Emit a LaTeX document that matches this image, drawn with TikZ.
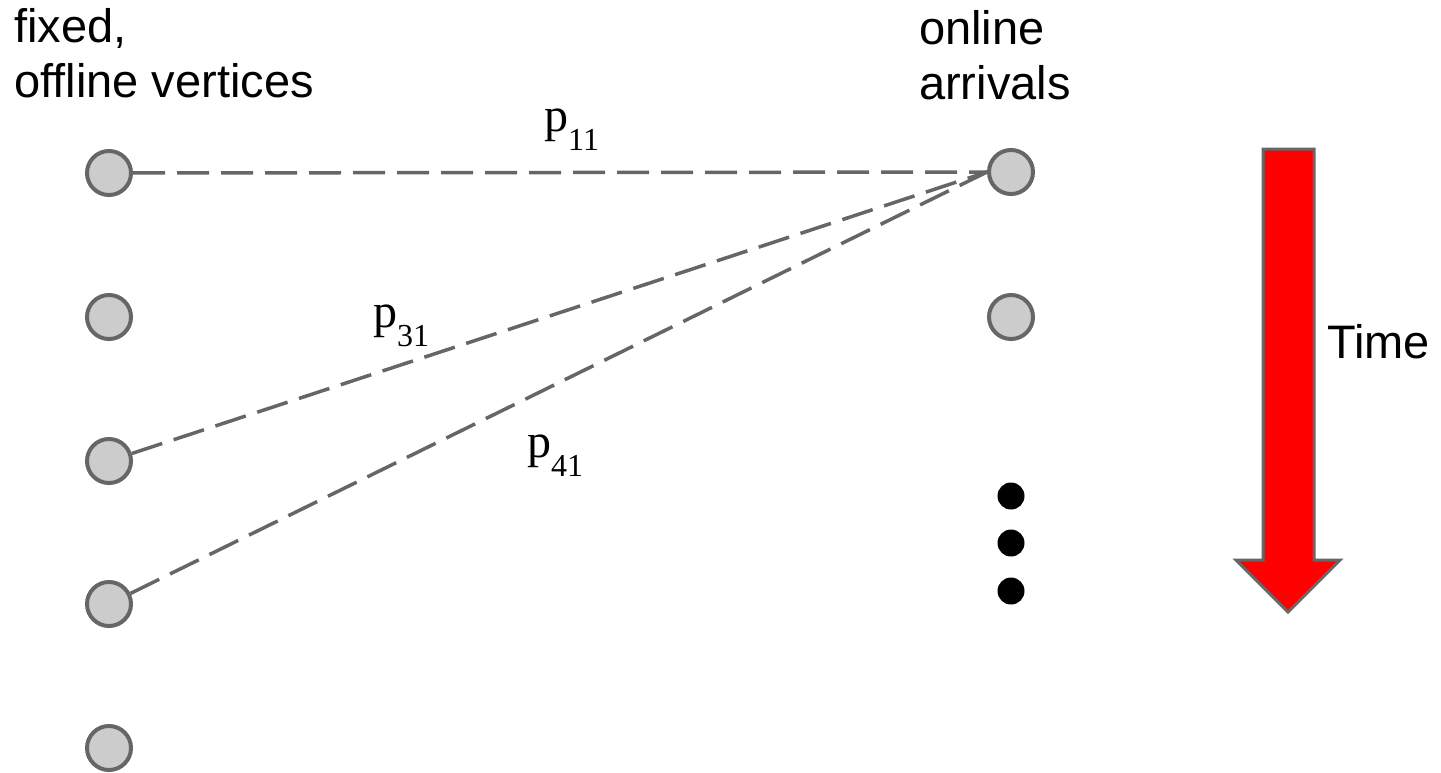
\documentclass[tikz,border=0pt]{standalone}
\usepackage{fontspec}
\setmainfont{Liberation Sans}
\newfontfamily\serifp{Liberation Serif}
\definecolor{edgegray}{HTML}{666666}
\definecolor{nodefill}{HTML}{CCCCCC}
\begin{document}
\begin{tikzpicture}[x=1pt,y=-1pt,
  vertex/.style={circle,draw=edgegray,fill=nodefill,line width=4pt,minimum size=44pt,inner sep=0pt},
  dotnode/.style={circle,fill=black,minimum size=27pt,inner sep=0pt},
  link/.style={draw=edgegray,line width=3.5pt,dash pattern=on 32pt off 12pt},
  lbl/.style={font=\fontsize{47pt}{54pt}\selectfont,anchor=base west,inner sep=0pt},
  plabel/.style={font=\serifp\fontsize{48pt}{54pt}\selectfont,anchor=base west,inner sep=0pt},
  timearrow/.style={draw=edgegray,fill=red,line width=3pt,line join=miter}]
\useasboundingbox (0,0) rectangle (1441,772);
% header texts
\node[lbl] (fixedA) at (14,42) {fixed,};
\node[lbl] (fixedB) at (14,97) {offline vertices};
\node[lbl] (onlineA) at (919,44) {online};
\node[lbl] (onlineB) at (919,99) {arrivals};
% offline vertices
\node[vertex] (L1) at (109,173) {};
\node[vertex] (L2) at (109,317) {};
\node[vertex] (L3) at (109,461) {};
\node[vertex] (L4) at (109,604) {};
\node[vertex] (L5) at (109,748) {};
% online vertices
\node[vertex] (R1) at (1011,172) {};
\node[vertex] (R2) at (1011,317) {};
\node[dotnode] (D1) at (1011,496) {};
\node[dotnode] (D2) at (1011,543) {};
\node[dotnode] (D3) at (1011,591) {};
% edges
\draw[link] (L1) -- (R1);
\draw[link] (L3) -- (R1.west);
\draw[link] (L4) -- (R1.west);
% edge labels
\node[plabel] (p11) at (544,131) {p\raisebox{-19pt}{\fontsize{32pt}{36pt}\selectfont 11}};
\node[plabel] (p31) at (373,327) {p\raisebox{-19pt}{\fontsize{32pt}{36pt}\selectfont 31}};
\node[plabel] (p41) at (527,457) {p\raisebox{-19pt}{\fontsize{32pt}{36pt}\selectfont 41}};
% time arrow
\draw[timearrow] (1263,149) -- (1314,149) -- (1314,560) -- (1340,560) -- (1288,612) -- (1236,560) -- (1263,560) -- cycle;
\node[lbl] (time) at (1327,358) {Time};
\end{tikzpicture}
\end{document}
